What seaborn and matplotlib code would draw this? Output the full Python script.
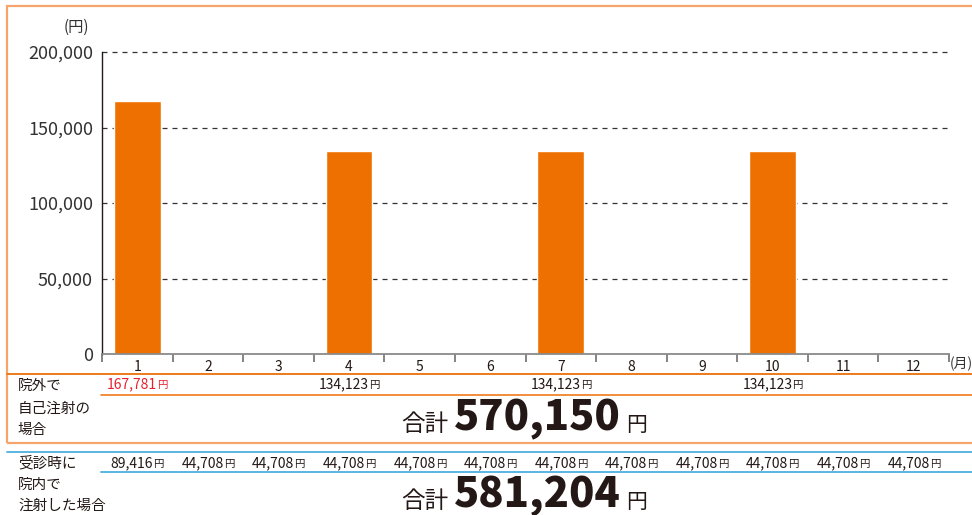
#-------------------------------------------
# Monthly injection cost comparison chart
#-------------------------------------------

import numpy as np
import pandas as pd
import matplotlib
matplotlib.use('Agg')
import matplotlib.pyplot as plt
import matplotlib.ticker as mtick
import matplotlib.transforms as mtrans
from matplotlib.patches import Rectangle
from matplotlib.lines import Line2D
from matplotlib.offsetbox import TextArea, HPacker, AnnotationBbox
import seaborn as sns

#------------------ DATA -------------------------------------------

months = [str(m) for m in range(1, 13)]
self_inj = [167781, 0, 0, 134123, 0, 0, 134123, 0, 0, 134123, 0, 0]
clinic_inj = [89416, 44708, 44708, 44708, 44708, 44708, 44708, 44708, 44708, 44708, 44708, 44708]
yticks = [0, 50000, 100000, 150000, 200000]
row1_label = ['院外で', '自己注射の', '場合']
row2_label = ['受診時に', '院内で', '注射した場合']

self_total = sum(self_inj)
clinic_total = sum(clinic_inj)

#------------------ STYLE ------------------------------------------

sns.set_theme(style='white')
plt.rcParams['font.family'] = ['Noto Sans CJK JP', 'DejaVu Sans']

W, H = 972, 515
ink = '#231815'
bar_col = '#EE7000'
frame_col = '#F5A46B'
line_col = '#EE7A1A'
blue = '#5AB4E2'
red = '#E6212E'

def fy(py):
    return 1 - py / H

def fx(px):
    return px / W

fig = plt.figure(figsize=(W / 100, H / 100), dpi=100)
ax = fig.add_axes([fx(102), fy(354), (949 - 102) / W, 302 / H])

#------------------ BARS -------------------------------------------

df = pd.DataFrame({'month': months, 'cost': self_inj})
sns.barplot(data=df, x='month', y='cost', color=bar_col, saturation=1,
            width=0.66, ax=ax)

ax.set_xlim(-0.5, 11.5)
ax.set_ylim(0, 200000)
ax.set_yticks(yticks)
ax.yaxis.set_major_formatter(mtick.StrMethodFormatter('{x:,.0f}'))
ax.set_xlabel('')
ax.set_ylabel('')

for v in yticks[1:]:
    ax.axhline(v, color='#333333', lw=0.9, ls=(0, (4, 4)), clip_on=False, zorder=0)

ax.set_xticks(np.arange(-0.5, 12, 1), minor=True)
ax.tick_params(axis='x', which='major', length=0, pad=4, labelsize=10, labelcolor=ink)
ax.tick_params(axis='x', which='minor', bottom=True, length=6, width=1.2,
               color='#6f6f6f', direction='out')
ax.tick_params(axis='y', length=0, pad=6.5, labelsize=13, labelcolor='#333333')

for s in ['top', 'right']:
    ax.spines[s].set_visible(False)
ax.spines['bottom'].set_color('#8a8a8a')
ax.spines['bottom'].set_linewidth(1.3)
ax.spines['left'].set_color(ink)
ax.spines['left'].set_linewidth(1.0)

fig.text(fx(76), fy(27), '(円)', ha='center', va='center', size=11, color='#333333')
fig.text(fx(950), fy(364), '(月)', ha='left', va='center', size=10, color='#333333')

#------------------ TABLE ROWS -------------------------------------

fig.add_artist(Rectangle((fx(7), fy(443)), (1000 - 7) / W, (443 - 6) / H,
                         transform=fig.transFigure, fill=False, ec=frame_col, lw=1.6))

def hline(py, px0, col, lw=1.4):
    fig.add_artist(Line2D([fx(px0), 1.02], [fy(py), fy(py)], transform=fig.transFigure,
                          color=col, lw=lw))

hline(374, 7, line_col)
hline(395, 101, line_col, 1.2)
hline(452, 7, blue)
hline(472, 101, blue)

for lab, py in zip(row1_label, [386, 409, 430]):
    fig.text(fx(18), fy(py), lab, ha='left', va='center', size=10.5, color=ink)
for lab, py in zip(row2_label, [463, 485, 506]):
    fig.text(fx(18), fy(py), lab, ha='left', va='center', size=10.5, color=ink)

trans = mtrans.blended_transform_factory(ax.transData, fig.transFigure)

def cell(i, value, py, col):
    box = HPacker(children=[TextArea(f'{value:,}', textprops=dict(size=10, color=col)),
                            TextArea('円', textprops=dict(size=7.5, color=col))],
                  align='baseline', pad=0, sep=0)
    ab = AnnotationBbox(box, (i, fy(py)), xycoords=trans, frameon=False,
                        box_alignment=(0.5, 0.5), annotation_clip=False)
    fig.add_artist(ab)

for i, v in enumerate(self_inj):
    if v > 0:
        cell(i, v, 384, red if i == 0 else ink)
for i, v in enumerate(clinic_inj):
    cell(i, v, 463, ink)

def total(value, py):
    box = HPacker(children=[TextArea('合計', textprops=dict(size=17, color=ink)),
                            TextArea(f'{value:,}', textprops=dict(size=30, weight='heavy', color=ink)),
                            TextArea('円', textprops=dict(size=15, color=ink))],
                  align='baseline', pad=0, sep=4)
    ab = AnnotationBbox(box, (fx(524), fy(py)), xycoords='figure fraction', frameon=False,
                        box_alignment=(0.5, 0.5), annotation_clip=False)
    fig.add_artist(ab)

total(self_total, 419)
total(clinic_total, 496)

plt.savefig('out.png', dpi=100)
